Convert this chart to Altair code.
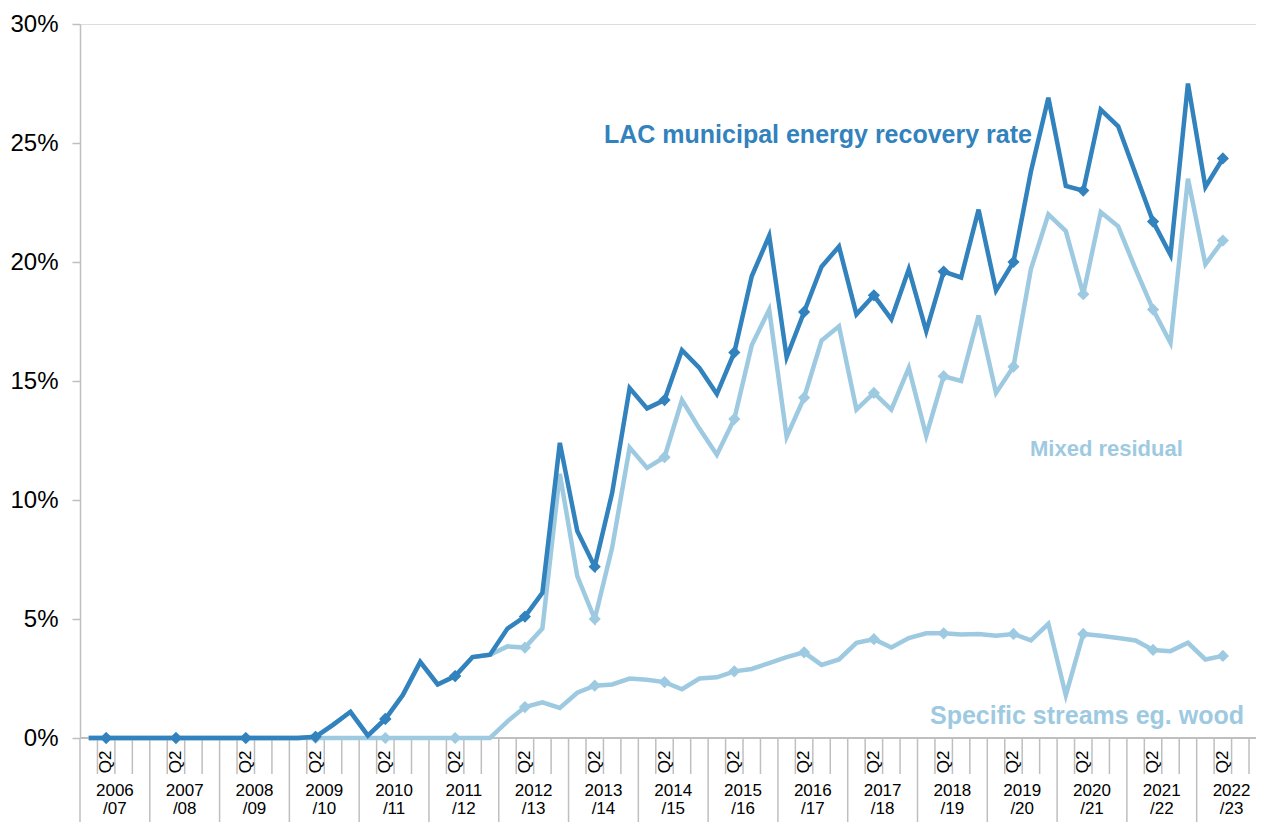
import altair as alt
import pandas as pd

# ---------------- data (percent values) ----------------
fiscal_years = ["2006/07", "2007/08", "2008/09", "2009/10", "2010/11", "2011/12",
                "2012/13", "2013/14", "2014/15", "2015/16", "2016/17", "2017/18",
                "2018/19", "2019/20", "2020/21", "2021/22", "2022/23"]
quarters = ["Q1", "Q2", "Q3", "Q4"]

total = [0, 0, 0, 0,
         0, 0, 0, 0,
         0, 0, 0, 0,
         0, 0.05, 0.55, 1.1,
         0.1, 0.8, 1.8, 3.2,
         2.25, 2.6, 3.4, 3.5,
         4.6, 5.1, 6.1, 12.4,
         8.7, 7.2, 10.3, 14.7,
         13.85, 14.2, 16.3, 15.55,
         14.45, 16.2, 19.4, 21.1,
         16.0, 17.9, 19.8, 20.65,
         17.8, 18.6, 17.6, 19.7,
         17.1, 19.6, 19.35, 22.2,
         18.8, 20.0, 23.8, 26.9,
         23.2, 23.0, 26.4, 25.7,
         23.7, 21.7, 20.3, 27.5,
         23.15, 24.35]

mixed = [0, 0, 0, 0,
         0, 0, 0, 0,
         0, 0, 0, 0,
         0, 0.05, 0.55, 1.1,
         0.1, 0.8, 1.8, 3.2,
         2.25, 2.6, 3.4, 3.5,
         3.85, 3.8, 4.6, 11.1,
         6.8, 5.0, 8.0, 12.2,
         11.35, 11.8, 14.2, 13.0,
         11.9, 13.4, 16.5, 18.0,
         12.65, 14.3, 16.7, 17.3,
         13.8, 14.5, 13.8, 15.55,
         12.7, 15.2, 15.0, 17.75,
         14.5, 15.6, 19.7, 22.0,
         21.3, 18.65, 22.1, 21.5,
         19.7, 18.0, 16.6, 23.5,
         19.9, 20.9]

specific = [0, 0, 0, 0,
            0, 0, 0, 0,
            0, 0, 0, 0,
            0, 0, 0, 0,
            0, 0, 0, 0,
            0, 0, 0, 0,
            0.7, 1.3, 1.5, 1.26,
            1.9, 2.2, 2.25, 2.5,
            2.45, 2.35, 2.05, 2.5,
            2.55, 2.8, 2.9, 3.15,
            3.4, 3.6, 3.07, 3.3,
            4.0, 4.15, 3.8, 4.2,
            4.4, 4.4, 4.35, 4.37,
            4.3, 4.37, 4.1, 4.8,
            1.8, 4.37, 4.3, 4.2,
            4.1, 3.7, 3.65, 4.0,
            3.3, 3.45]

series_names = ["Specific streams eg. wood", "Mixed residual",
                "LAC municipal energy recovery rate"]
series_values = [specific, mixed, total]
series_colors = ["#9ecae1", "#9ecae1", "#3182bd"]
y_ticks = [0, 5, 10, 15, 20, 25, 30]

# ---------------- layout ----------------
W, H = 1176, 714
X_MAX = 67.4
FONT = "Liberation Sans"
GREY = "#bfbfbf"

x_scale = alt.Scale(domain=[0, X_MAX], nice=False, zero=False)
y_scale = alt.Scale(domain=[0, 30], nice=False)

rows = []
for name, vals in zip(series_names, series_values):
    for i, v in enumerate(vals):
        rows.append({"series": name, "pos": i + 0.5,
                     "quarter": quarters[i % 4], "value": v})
df = pd.DataFrame(rows)

y_enc = alt.Y("value:Q", scale=y_scale,
              axis=alt.Axis(values=y_ticks, labelExpr="datum.value + '%'",
                            grid=False, domainColor=GREY, domainWidth=1.5,
                            tickColor=GREY, tickWidth=1.5, tickSize=8,
                            labelFontSize=24, labelFont=FONT, labelColor="black",
                            labelPadding=14, title=None))
x_enc = alt.X("pos:Q", scale=x_scale, axis=None)

layers = []

# category axis structure
n_cat = len(fiscal_years) * 4
sep_df = pd.DataFrame({"pos": [4 * k for k in range(len(fiscal_years))]})
tick_df = pd.DataFrame({"pos": [j for j in range(1, n_cat) if j % 4 != 0]})
q2_df = pd.DataFrame({"pos": [4 * k + 1.5 for k in range(len(fiscal_years))],
                      "label": ["Q2"] * len(fiscal_years)})
yr_df = pd.DataFrame({"pos": [4 * k + 2 for k in range(len(fiscal_years))],
                      "label": [fy.replace("/", "\n/") for fy in fiscal_years]})

layers.append(alt.Chart(sep_df).mark_rule(color=GREY, strokeWidth=1.5).encode(
    x=x_enc, y=alt.value(H), y2=alt.value(H + 100)))
layers.append(alt.Chart(tick_df).mark_rule(color=GREY, strokeWidth=1.5).encode(
    x=x_enc, y=alt.value(H), y2=alt.value(H + 36)))
layers.append(alt.Chart(sep_df).mark_rule(color=GREY, strokeWidth=1.5).encode(
    x=alt.value(0), x2=alt.value(W), y=alt.value(H)))
layers.append(alt.Chart(q2_df).mark_text(angle=270, align="center", baseline="middle",
                                         font=FONT, fontSize=17, color="black").encode(
    x=x_enc, y=alt.value(H + 24), text="label:N"))
layers.append(alt.Chart(yr_df).mark_text(align="center", baseline="top", lineBreak="\n",
                                         lineHeight=18, font=FONT, fontSize=17,
                                         color="black").encode(
    x=x_enc, y=alt.value(H + 45), text="label:N"))

# data series
for name, col in zip(series_names, series_colors):
    sub = df[df.series == name]
    layers.append(alt.Chart(sub).mark_line(color=col, strokeWidth=4.5,
                                           strokeJoin="miter").encode(
        x=x_enc, y=y_enc))
    layers.append(alt.Chart(sub[sub.quarter == "Q2"]).mark_point(
        shape="diamond", filled=True, size=150, opacity=1, color=col).encode(
        x=x_enc, y=y_enc))

# series labels
lab_df = pd.DataFrame({"label": series_names})
label_pos = {"LAC municipal energy recovery rate": (524, 111, 25, "#3182bd"),
             "Mixed residual": (950, 425, 22, "#9ecae1"),
             "Specific streams eg. wood": (850, 692, 25, "#9ecae1")}
for name, (px, py, fs, col) in label_pos.items():
    layers.append(alt.Chart(lab_df[lab_df.label == name]).mark_text(
        align="left", baseline="middle", font=FONT, fontSize=fs, fontWeight="bold",
        color=col).encode(x=alt.value(px), y=alt.value(py), text="label:N"))

chart = alt.layer(*layers).properties(
    width=W, height=H,
    padding={"left": 72, "top": 16, "right": 0, "bottom": 84},
    autosize=alt.AutoSizeParams(type="none"),
).configure_view(stroke=None).configure(background="white")

chart.save("out.html", embed_options={"renderer": "svg", "actions": False})
